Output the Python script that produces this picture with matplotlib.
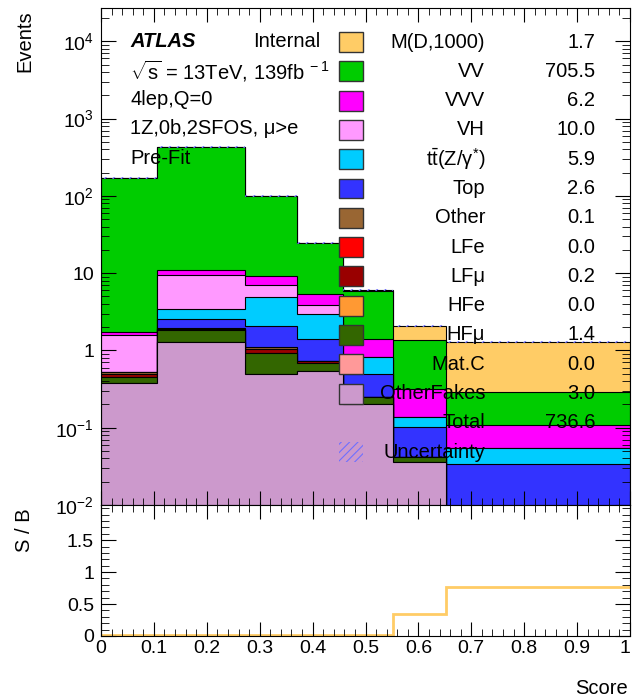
import numpy as np
import matplotlib
matplotlib.use("Agg")
import matplotlib.pyplot as plt
from matplotlib.patches import Rectangle
from matplotlib.ticker import FixedLocator, FixedFormatter, MultipleLocator

plt.rcParams["font.family"] = ["Liberation Sans", "DejaVu Sans"]
plt.rcParams["mathtext.fontset"] = "custom"
plt.rcParams["mathtext.rm"] = "Liberation Sans"
plt.rcParams["mathtext.it"] = "Liberation Sans:italic"
plt.rcParams["mathtext.bf"] = "Liberation Sans:bold"
plt.rcParams["hatch.linewidth"] = 0.8

# bin edges of the score
edges = [0.0, 0.105, 0.272, 0.371, 0.457, 0.552, 0.652, 1.0]

# per-process yields per bin
other_fakes = [0.38, 1.28, 0.50, 0.55, 0.205, 0.036, 0.003]
mat_c = [0.0, 0.0, 0.0, 0.0, 0.0, 0.0, 0.0]
hf_mu = [0.08, 0.57, 0.43, 0.14, 0.045, 0.006, 0.001]
hf_e = [0.0, 0.0, 0.0, 0.0, 0.0, 0.0, 0.0]
lf_mu = [0.03, 0.04, 0.12, 0.03, 0.0, 0.0, 0.0]
lf_e = [0.0, 0.0, 0.0, 0.0, 0.0, 0.0, 0.0]
other = [0.04, 0.04, 0.05, 0.02, 0.0, 0.0, 0.0]
top = [0.0, 0.63, 1.0, 0.67, 0.25, 0.061, 0.030]
ttz = [0.0, 0.89, 2.8, 1.56, 0.32, 0.035, 0.021]
vh = [1.06, 6.05, 2.15, 0.93, 0.0, 0.0, 0.0]
vvv = [0.15, 1.47, 2.15, 1.5, 0.59, 0.18, 0.053]
vv = [167.3, 417.0, 90.8, 19.1, 4.54, 1.03, 0.182]
signal = [0.0, 0.0, 0.0, 0.0, 0.06, 0.72, 0.99]

ratio = [0.01, 0.01, 0.01, 0.01, 0.015, 0.35, 0.77]

names = ["M(D,1000)", "VV", "VVV", "VH", r"$\mathdefault{t\bar{t}(Z/\gamma^{*})}$",
         "Top", "Other", "LFe", "LF\u03bc", "HFe", "HF\u03bc", "Mat.C", "OtherFakes"]
totals = ["1.7", "705.5", "6.2", "10.0", "5.9", "2.6", "0.1", "0.0", "0.2",
          "0.0", "1.4", "0.0", "3.0"]
total_all = "736.6"
colors = ["#ffcc66", "#00cc00", "#ff00ff", "#ff99ff", "#00ccff", "#3333ff",
          "#996633", "#ff0000", "#990000", "#ff9933", "#336600", "#ff9999", "#cc99cc"]

# stacking order bottom -> top
stack = [other_fakes, mat_c, hf_mu, hf_e, lf_mu, lf_e, other, top, ttz, vh, vvv, vv, signal]
stack_colors = colors[::-1]

fig = plt.figure(figsize=(6.33, 6.99), dpi=100)
ax = fig.add_axes([101 / 633, 1 - 505 / 699, 529 / 633, 497 / 699])
rax = fig.add_axes([101 / 633, 1 - 636 / 699, 529 / 633, 131 / 699])

cum = np.cumsum(np.array(stack), axis=0)
for i in range(len(stack) - 1, -1, -1):
    ax.stairs(cum[i], edges, baseline=1e-4, fill=True, facecolor=stack_colors[i],
              edgecolor="black", lw=0.8)

tot = cum[-1]
ax.stairs(tot * 1.03, edges, baseline=tot * 0.97, fill=True, facecolor="none",
          edgecolor="#6f6fff", lw=0, hatch="////")

ax.set_yscale("log")
ax.set_xlim(0, 1)
ax.set_ylim(0.01, 27000)
ax.yaxis.set_major_locator(FixedLocator([1e-2, 1e-1, 1, 10, 100, 1e3, 1e4]))
ax.yaxis.set_major_formatter(FixedFormatter([r"$\mathdefault{10^{-2}}$", r"$\mathdefault{10^{-1}}$",
                                             "1", "10", r"$\mathdefault{10^{2}}$",
                                             r"$\mathdefault{10^{3}}$", r"$\mathdefault{10^{4}}$"]))
minors = [m * 10.0 ** d for d in range(-2, 5) for m in range(2, 10)]
ax.yaxis.set_minor_locator(FixedLocator(minors))
ax.yaxis.set_minor_formatter(FixedFormatter([""] * len(minors)))
ax.xaxis.set_major_locator(MultipleLocator(0.1))
ax.xaxis.set_minor_locator(MultipleLocator(0.02))
ax.tick_params(axis="both", which="both", direction="in", top=True, right=True,
               labelbottom=False, labelsize=14, pad=5)
ax.tick_params(axis="y", which="major", length=11)
ax.tick_params(axis="y", which="minor", length=6)
ax.tick_params(axis="x", which="major", length=10)
ax.tick_params(axis="x", which="minor", length=5)

# labels in the top-left corner
ax.text(0.055, 0.932, "ATLAS", transform=ax.transAxes, fontsize=14.5,
        fontweight="bold", fontstyle="italic", va="center", zorder=10)
ax.text(0.287, 0.932, "Internal", transform=ax.transAxes, fontsize=14.5, va="center", zorder=10)
ax.text(0.055, 0.873, r"$\sqrt{\mathdefault{s}}$ = 13TeV, 139fb$^{\mathdefault{\ -1}}$",
        transform=ax.transAxes, fontsize=14.5, va="center", zorder=10)
ax.text(0.055, 0.815, "4lep,Q=0", transform=ax.transAxes, fontsize=14.5, va="center", zorder=10)
ax.text(0.055, 0.757, "1Z,0b,2SFOS, \u03bc>e", transform=ax.transAxes, fontsize=14.5,
        va="center", zorder=10)
ax.text(0.055, 0.698, "Pre-Fit", transform=ax.transAxes, fontsize=14.5, va="center", zorder=10)

# legend drawn by hand
for i in range(len(names)):
    yc = (505 - (42 + 29.3 * i)) / 497
    ax.add_patch(Rectangle((0.450, yc - 0.020), 0.0454, 0.040, transform=ax.transAxes,
                           facecolor=colors[i], edgecolor="#333333", lw=1, zorder=10))
    ax.text(0.726, yc, names[i], transform=ax.transAxes, fontsize=14.5,
            ha="right", va="center", zorder=11)
    ax.text(0.934, yc, totals[i], transform=ax.transAxes, fontsize=14.5,
            ha="right", va="center", zorder=11)
yc = (505 - (42 + 29.3 * 13)) / 497
ax.text(0.726, yc, "Total", transform=ax.transAxes, fontsize=14.5, ha="right", va="center", zorder=11)
ax.text(0.934, yc, total_all, transform=ax.transAxes, fontsize=14.5, ha="right", va="center", zorder=11)
yc = (505 - (42 + 29.3 * 14)) / 497
ax.add_patch(Rectangle((0.450, yc - 0.020), 0.0454, 0.040, transform=ax.transAxes,
                       facecolor="none", edgecolor="#6f6fff", lw=0, hatch="////", zorder=10))
ax.text(0.726, yc, "Uncertainty", transform=ax.transAxes, fontsize=14.5,
        ha="right", va="center", zorder=11)

# S/B panel
rax.stairs(ratio, edges, baseline=None, color="#ffcc66", lw=2)
rax.set_xlim(0, 1)
rax.set_ylim(0, 2.05)
rax.yaxis.set_major_locator(FixedLocator([0, 0.5, 1, 1.5]))
rax.yaxis.set_major_formatter(FixedFormatter(["0", "0.5", "1", "1.5"]))
rax.yaxis.set_minor_locator(MultipleLocator(0.1))
rax.xaxis.set_major_locator(FixedLocator([0, 0.1, 0.2, 0.3, 0.4, 0.5, 0.6, 0.7, 0.8, 0.9, 1.0]))
rax.xaxis.set_major_formatter(FixedFormatter(["0", "0.1", "0.2", "0.3", "0.4", "0.5",
                                              "0.6", "0.7", "0.8", "0.9", "1"]))
rax.xaxis.set_minor_locator(MultipleLocator(0.02))
rax.tick_params(axis="both", which="both", direction="in", top=True, right=True,
                labelsize=14, pad=5)
rax.tick_params(axis="x", which="major", length=10, pad=3)
rax.tick_params(axis="x", which="minor", length=5)
rax.tick_params(axis="y", which="major", length=11)
rax.tick_params(axis="y", which="minor", length=6)

fig.canvas.draw()
rax.get_xticklabels()[-1].set_horizontalalignment("right")

fig.text(25 / 633, 1 - 10 / 699, "Events", rotation=90, ha="center", va="top", fontsize=14.5)
fig.text(25 / 633, 1 - 508 / 699, "S / B", rotation=90, ha="center", va="top", fontsize=14.5)
fig.text(628 / 633, 1 - 688 / 699, "Score", ha="right", va="center", fontsize=14.5)

fig.savefig("out.png", dpi=100)
